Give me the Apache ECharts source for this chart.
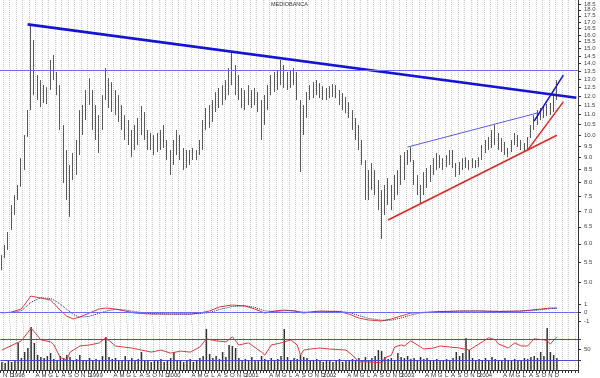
<!DOCTYPE html>
<html>
<head>
<meta charset="utf-8">
<script src="https://cdn.jsdelivr.net/npm/echarts@6/dist/echarts.min.js"></script>
<style>
html, body { margin: 0; background: #fff; }
#chart { width: 600px; height: 378px; }
</style>
</head>
<body>
<div id="chart"></div>
<script>
// half-month periods, Oct 1997 (2nd half) .. Mar 2005 (1st half)
const monthInitials = ['G', 'F', 'M', 'A', 'M', 'G', 'L', 'A', 'S', 'O', 'N', 'D']
const periods = []
for (let y = 1997; y <= 2005; y++) {
  for (let m = 1; m <= 12; m++) {
    for (const d of [1, 16]) {
      if (y === 1997 && (m < 10 || (m === 10 && d === 1))) continue
      if (y === 2005 && (m > 3 || (m === 3 && d === 16))) continue
      periods.push(y + '-' + String(m).padStart(2, '0') + '-' + String(d).padStart(2, '0'))
    }
  }
}

// price range of each half month (EUR)
const highs = [
  5.69, 5.97, 6.34, 7.20, 7.54, 7.91, 8.97, 10.00, 11.24, 16.84,
  15.62, 13.25, 12.94, 12.64, 12.52, 14.22, 14.56, 13.44, 12.64, 10.48,
  9.32, 8.69, 9.19, 9.77, 11.24, 11.51, 12.35, 13.06, 12.35, 11.51,
  10.98, 12.06, 13.70, 13.06, 12.82, 12.35, 12.06, 11.51, 10.98, 10.73,
  10.24, 10.48, 10.83, 11.46, 11.14, 10.24, 10.10, 10.00, 10.10, 10.24,
  10.48, 9.77, 9.32, 9.77, 10.24, 10.00, 9.41, 9.32, 9.32, 9.41,
  9.32, 9.77, 10.73, 11.35, 11.51, 11.78, 12.23, 12.47, 12.64, 12.94,
  13.70, 14.76, 13.89, 13.25, 12.47, 12.35, 12.64, 12.35, 12.47, 12.23,
  11.78, 12.06, 12.64, 13.25, 13.44, 13.57, 14.22, 13.89, 13.44, 13.57,
  13.70, 13.44, 11.78, 11.51, 12.23, 12.64, 12.82, 12.94, 12.76, 12.58,
  12.47, 12.58, 12.70, 12.64, 12.35, 12.18, 11.95, 11.67, 11.24, 10.83,
  10.48, 9.77, 8.89, 8.48, 8.77, 8.48, 8.09, 7.72, 7.91, 8.17,
  7.91, 8.29, 8.48, 9.10, 9.23, 9.32, 9.45, 8.89, 8.29, 7.91,
  8.40, 8.56, 8.69, 8.97, 9.19, 9.10, 8.97, 9.10, 9.32, 9.32,
  8.77, 8.81, 8.97, 9.01, 8.89, 8.97, 8.89, 9.01, 9.54, 9.77,
  9.91, 10.24, 10.48, 10.10, 9.86, 9.68, 9.41, 9.77, 10.10, 10.00,
  9.77, 9.63, 9.91, 10.48, 10.98, 11.24, 11.35, 11.46, 11.57, 11.62,
  12.06, 12.94
]
const lows = [
  5.30, 5.61, 5.83, 6.40, 6.87, 7.37, 7.84, 8.48, 9.91, 11.24,
  12.06, 11.78, 11.40, 11.62, 11.57, 12.35, 12.94, 12.06, 10.24, 7.98,
  7.37, 6.81, 8.09, 8.29, 9.10, 10.00, 10.73, 11.51, 10.24, 9.77,
  9.19, 10.24, 11.78, 11.35, 11.14, 10.98, 10.63, 10.24, 9.77, 9.54,
  9.01, 9.32, 9.54, 10.00, 9.77, 9.32, 9.32, 9.10, 9.23, 9.32,
  9.41, 8.89, 8.29, 8.69, 9.10, 8.89, 8.48, 8.56, 8.69, 8.89,
  8.89, 9.10, 9.32, 10.24, 10.34, 10.63, 11.14, 11.35, 11.51, 11.78,
  12.06, 12.64, 12.06, 11.78, 11.35, 11.24, 11.51, 11.35, 11.51, 11.14,
  9.77, 10.48, 11.24, 12.06, 12.23, 12.35, 12.64, 12.47, 12.35, 12.47,
  12.64, 11.78, 8.40, 10.00, 10.83, 11.78, 11.89, 12.06, 11.89, 11.78,
  11.78, 11.89, 11.95, 11.89, 11.51, 11.24, 11.08, 10.83, 10.24, 9.77,
  9.32, 8.69, 7.37, 7.37, 7.72, 7.54, 7.03, 6.14, 6.87, 7.20,
  7.03, 7.37, 7.54, 7.91, 8.09, 8.69, 8.81, 7.91, 7.54, 7.27,
  7.54, 7.80, 8.02, 8.29, 8.48, 8.56, 8.48, 8.60, 8.69, 8.56,
  8.21, 8.29, 8.48, 8.56, 8.48, 8.56, 8.56, 8.60, 8.89, 9.19,
  9.32, 9.41, 9.54, 9.32, 9.23, 9.10, 9.01, 9.23, 9.54, 9.45,
  9.32, 9.23, 9.32, 9.86, 10.24, 10.48, 10.73, 10.83, 10.93, 10.98,
  11.14, 11.78
]

// volume (millions of shares) per half month
const volumes = [
  0.8, 0.7, 0.9, 0.8, 1.0, 2.7, 1.2, 1.8, 2.2, 4.3,
  2.7, 1.5, 1.3, 1.2, 1.4, 1.7, 1.1, 1.0, 1.4, 1.2,
  1.5, 1.3, 1.0, 1.1, 1.5, 0.9, 1.0, 1.2, 0.9, 1.1,
  1.0, 1.4, 3.3, 1.3, 1.1, 1.2, 0.9, 1.0, 1.4, 0.9,
  1.2, 1.0, 1.1, 1.8, 1.0, 0.9, 0.8, 1.0, 0.9, 1.1,
  0.8, 1.0, 1.2, 1.8, 0.9, 1.0, 0.8, 0.9, 1.1, 0.8,
  1.0, 1.2, 1.4, 4.1, 1.6, 1.2, 1.4, 1.1, 1.8, 1.3,
  2.5, 2.4, 2.2, 1.2, 1.0, 1.1, 0.9, 1.3, 1.0, 0.9,
  1.4, 1.1, 1.0, 1.2, 0.9, 1.1, 1.4, 4.1, 1.3, 1.0,
  1.2, 1.1, 1.5, 1.3, 1.2, 1.0, 0.9, 1.1, 1.0, 0.8,
  0.9, 1.0, 0.8, 0.9, 1.1, 0.8, 1.0, 0.9, 1.1, 0.9,
  1.2, 1.0, 1.3, 0.9, 1.2, 1.4, 2.0, 1.9, 1.3, 1.1,
  1.2, 1.0, 1.7, 1.3, 1.2, 1.4, 1.1, 1.2, 1.0, 1.3,
  1.1, 1.2, 1.0, 0.9, 1.1, 1.0, 0.9, 1.1, 1.0, 1.2,
  1.8, 1.4, 1.7, 3.2, 2.0, 1.2, 1.0, 1.1, 0.9, 1.2,
  1.0, 1.3, 1.1, 0.9, 1.0, 1.2, 0.9, 1.0, 1.1, 0.9,
  1.0, 1.2, 1.1, 1.3, 1.4, 1.2, 1.8, 1.4, 4.2, 1.8,
  1.5, 1.2
]

// oscillator (MACD) and its signal, read at these periods
const macdAt = [0, 3, 6, 7, 9, 12, 15, 16, 18, 20, 22, 24, 27, 30, 32, 35, 38, 41, 46, 52,
  58, 61, 64, 67, 71, 75, 78, 81, 84, 87, 90, 93, 98, 104, 107, 110, 113, 117, 120, 123,
  126, 129, 135, 141, 147, 153, 160, 163, 166, 169, 171]
const macdLine = [-0.05, 0.05, 0.41, 0.88, 1.94, 1.70, 1.47, 1.12, 0.29, -0.41, -0.76, -0.53, -0.06, 0.41, 0.53, 0.41, 0.18, -0.06, -0.18, -0.18,
  -0.18, -0.06, 0.18, 0.65, 0.88, 0.76, 0.41, -0.06, 0.18, 0.29, 0.18, -0.06, 0.18, 0.12, -0.18, -0.65, -0.88, -1.00, -0.76, -0.41,
  -0.06, 0.00, 0.12, 0.18, 0.18, 0.12, 0.18, 0.29, 0.41, 0.53, 0.53]
const macdSignal = [0.00, 0.00, 0.20, 0.50, 1.20, 1.75, 1.65, 1.50, 1.00, 0.40, -0.20, -0.55, -0.45, -0.10, 0.15, 0.38, 0.30, 0.10, -0.12, -0.18,
  -0.18, -0.12, 0.00, 0.35, 0.70, 0.80, 0.60, 0.20, 0.10, 0.20, 0.22, 0.05, 0.10, 0.15, 0.00, -0.35, -0.70, -0.90, -0.90, -0.65,
  -0.30, -0.05, 0.08, 0.16, 0.18, 0.14, 0.16, 0.22, 0.32, 0.45, 0.50]

// RSI read at these periods
const rsiAt = [0, 6, 9, 12, 15, 16, 18, 20, 21, 24, 27, 30, 32, 35, 40, 43, 46, 49, 52, 55,
  58, 61, 63, 66, 69, 71, 73, 76, 80, 81, 83, 86, 89, 91, 92, 93, 95, 98, 101, 106,
  108, 110, 113, 117, 118, 120, 121, 123, 124, 126, 128, 130, 133, 135, 138, 141, 144, 146, 148, 150,
  152, 153, 156, 158, 160, 162, 164, 167, 168, 169, 171]
const rsi = [49, 67, 92, 69, 65, 59, 34, 30, 45, 57, 59, 63, 73, 57, 53, 49, 45, 49, 43, 47,
  45, 55, 71, 67, 65, 75, 59, 63, 45, 39, 59, 63, 69, 59, 39, 49, 51, 53, 51, 49,
  39, 26, 26, 24, 34, 39, 55, 59, 57, 67, 59, 51, 53, 57, 55, 53, 49, 57, 65, 73,
  69, 61, 53, 63, 57, 57, 71, 69, 67, 61, 75]

// trend lines: [period, price] end points
const mainResistance = [[8, 16.81], [177, 11.91]]
const channelTop = [[125, 9.45], [165, 11.09]]
const channelBottom = [[119, 6.71], [171, 9.99]]
const steepSupport = [[162, 9.32], [173, 11.69]]
const steepTop = [[164, 10.68], [173, 13.25]]
const resistanceLevel = 13.57

const priceTicks = [5, 5.5, 6, 6.5, 7, 7.5, 8, 8.5, 9, 9.5, 10, 10.5, 11, 11.5, 12, 12.5,
  13, 13.5, 14, 14.5, 15, 15.5, 16, 16.5, 17, 17.5, 18, 18.5]

const smallFont = '"Liberation Sans Narrow", "Liberation Sans", sans-serif'

// a vertical grid line at the start of every month
const isMonthStart = idx => periods[idx] !== undefined && periods[idx].slice(8) === '01'

function xAxisFor(grid, extra) {
  return Object.assign({
    type: 'category',
    gridIndex: grid,
    data: periods,
    boundaryGap: true,
    axisLine: { show: false },
    axisTick: { show: false },
    axisLabel: { show: false },
    splitLine: {
      show: true,
      interval: isMonthStart,
      lineStyle: { color: '#c8c8c8', type: 'dotted', width: 1 }
    }
  }, extra)
}

const axisLabelStyle = { fontSize: 6, color: '#444', fontFamily: smallFont, margin: 6 }

const chart = echarts.init(document.getElementById('chart'))

chart.setOption({
  animation: false,
  backgroundColor: '#fff',
  title: {
    text: 'MEDIOBANCA',
    left: 271,
    top: 1,
    padding: 0,
    textStyle: { fontSize: 5.5, fontWeight: 'normal', color: '#333', fontFamily: smallFont }
  },
  grid: [
    { left: 0, right: 22, top: 0, height: 290 },
    { left: 0, right: 22, top: 290, height: 34 },
    { left: 0, right: 22, top: 324, height: 46 }
  ],
  xAxis: [
    xAxisFor(0),
    xAxisFor(1, { axisLine: { show: true, lineStyle: { color: '#333', width: 1 } } }),
    xAxisFor(2, {
      axisLine: { show: true, lineStyle: { color: '#333', width: 1 } },
      axisTick: { show: true, interval: 0, length: 3, lineStyle: { color: '#333' } },
      axisLabel: {
        show: true,
        interval: idx => {
          const m = +periods[idx].slice(5, 7)
          return periods[idx].slice(8) === '01' && m !== 2 && m !== 3
        },
        formatter: val => {
          const m = +val.slice(5, 7)
          return m === 1 ? val.slice(0, 4) : monthInitials[m - 1]
        },
        fontSize: 6,
        color: '#333',
        fontFamily: smallFont,
        margin: 2
      }
    })
  ],
  yAxis: [
    {
      type: 'log',
      gridIndex: 0,
      position: 'right',
      min: 4.83,
      max: 18.85,
      axisLine: { show: true, lineStyle: { color: '#333' } },
      axisTick: { show: true, length: 3, customValues: priceTicks, lineStyle: { color: '#333' } },
      axisLabel: Object.assign({ customValues: priceTicks, formatter: v => Number(v).toFixed(1) }, axisLabelStyle),
      splitLine: { show: false }
    },
    {
      type: 'value',
      gridIndex: 1,
      position: 'right',
      min: -1.35,
      max: 2.65,
      axisLine: { show: true, lineStyle: { color: '#333' } },
      axisTick: { show: true, length: 3, customValues: [-1, 0, 1], lineStyle: { color: '#333' } },
      axisLabel: Object.assign({ customValues: [-1, 0, 1] }, axisLabelStyle),
      splitLine: { show: false }
    },
    {
      type: 'value',
      gridIndex: 2,
      position: 'right',
      min: 10,
      max: 100,
      axisLine: { show: true, lineStyle: { color: '#333' } },
      axisTick: { show: true, length: 3, customValues: [30, 50, 70], lineStyle: { color: '#333' } },
      axisLabel: Object.assign({ customValues: [50] }, axisLabelStyle),
      splitLine: { show: false }
    },
    {
      type: 'value',
      gridIndex: 2,
      show: false,
      min: 0,
      max: 4.6,
      splitLine: { show: false }
    }
  ],
  series: [
    {
      name: 'Prezzo',
      type: 'candlestick',
      xAxisIndex: 0,
      yAxisIndex: 0,
      barWidth: 1,
      data: highs.map((h, i) => [lows[i], h, lows[i], h]),
      itemStyle: { color: '#5a5a5a', color0: '#5a5a5a', borderColor: '#5a5a5a', borderColor0: '#5a5a5a', borderWidth: 1 },
      markLine: {
        silent: true,
        symbol: 'none',
        label: { show: false },
        lineStyle: { color: '#6b6bef', width: 1.2, type: 'solid' },
        data: [{ yAxis: resistanceLevel }]
      }
    },
    {
      type: 'line', xAxisIndex: 0, yAxisIndex: 0, symbol: 'none',
      data: mainResistance,
      lineStyle: { color: '#1414d2', width: 2.6 }
    },
    {
      type: 'line', xAxisIndex: 0, yAxisIndex: 0, symbol: 'none',
      data: channelTop,
      lineStyle: { color: '#5a5aee', width: 1 }
    },
    {
      type: 'line', xAxisIndex: 0, yAxisIndex: 0, symbol: 'none',
      data: channelBottom,
      lineStyle: { color: '#e02828', width: 1.6 }
    },
    {
      type: 'line', xAxisIndex: 0, yAxisIndex: 0, symbol: 'none',
      data: steepSupport,
      lineStyle: { color: '#e02828', width: 1.3 }
    },
    {
      type: 'line', xAxisIndex: 0, yAxisIndex: 0, symbol: 'none',
      data: steepTop,
      lineStyle: { color: '#1414d2', width: 1.5 }
    },
    {
      name: 'MACD',
      type: 'line', xAxisIndex: 1, yAxisIndex: 1, symbol: 'none',
      data: macdAt.map((p, i) => [p, macdLine[i]]),
      lineStyle: { color: '#e03a3a', width: 1 },
      markLine: {
        silent: true,
        symbol: 'none',
        label: { show: false },
        lineStyle: { color: '#6b6bef', width: 1.2, type: 'solid' },
        data: [{ yAxis: 0 }]
      }
    },
    {
      name: 'Segnale',
      type: 'line', xAxisIndex: 1, yAxisIndex: 1, symbol: 'none',
      data: macdAt.map((p, i) => [p, macdSignal[i]]),
      lineStyle: { color: '#22229a', width: 1, type: 'dotted' }
    },
    {
      name: 'Volume',
      type: 'bar', xAxisIndex: 2, yAxisIndex: 3,
      barWidth: 1.5,
      data: volumes,
      itemStyle: { color: '#333' }
    },
    {
      name: 'RSI',
      type: 'line', xAxisIndex: 2, yAxisIndex: 2, symbol: 'none',
      data: rsiAt.map((p, i) => [p, rsi[i]]),
      lineStyle: { color: '#e03a3a', width: 1 },
      markLine: {
        silent: true,
        symbol: 'none',
        label: { show: false },
        lineStyle: { color: '#4a4ad0', width: 1.2, type: 'solid' },
        data: [{ yAxis: 70 }, { yAxis: 30 }]
      }
    }
  ]
})
</script>
</body>
</html>
